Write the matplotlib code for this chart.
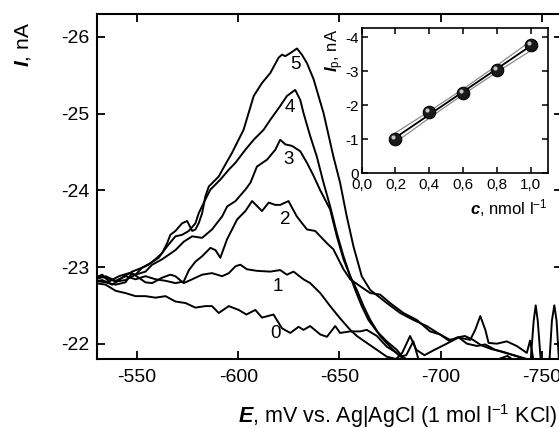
import numpy as np
import matplotlib
matplotlib.use("Agg")
import matplotlib.pyplot as plt
from matplotlib import transforms

plt.rcParams['font.family'] = 'Liberation Sans'
plt.rcParams['axes.unicode_minus'] = False
plt.rcParams['mathtext.fontset'] = 'custom'
plt.rcParams['mathtext.rm'] = 'Liberation Sans'
plt.rcParams['mathtext.it'] = 'Liberation Sans:bold:italic'

# voltammograms, E in mV, I in nA
e0 = [-529.4, -534.4, -539.3, -544.2, -549.2, -554.1, -559.1, -564.0, -568.9, -573.9, -578.8, -583.7, -587.0, -590.3,
      -595.3, -600.2, -604.0, -608.4, -611.7, -617.4, -621.6, -625.7, -629.8, -632.2, -635.5, -640.5, -643.8, -647.9,
      -650.3, -655.3, -660.2, -663.5, -668.5, -673.4, -678.3, -683.0, -690.0, -700.0, -720.0, -733.0, -738.0, -744.5,
      -746.0, -747.0, -748.0, -749.5, -751.5, -753.8, -755.0, -756.2, -757.3, -758.5, -760.0]
i0 = [-22.79, -22.77, -22.69, -22.66, -22.62, -22.62, -22.60, -22.62, -22.55, -22.53, -22.47, -22.49, -22.49, -22.40,
      -22.49, -22.44, -22.38, -22.44, -22.34, -22.38, -22.20, -22.14, -22.22, -22.18, -22.23, -22.12, -22.09, -22.23,
      -22.14, -22.16, -22.16, -22.18, -22.10, -21.96, -21.88, -21.78, -21.72, -21.70, -21.72, -21.84, -21.75, -21.78,
      -22.30, -22.50, -22.30, -21.78, -21.72, -21.78, -22.30, -22.50, -22.30, -21.78, -21.72]

e1 = [-529.4, -534.4, -539.3, -544.2, -547.5, -550.8, -554.1, -557.4, -562.3, -566.4, -568.9, -573.0, -577.2, -582.1,
      -587.0, -592.0, -595.3, -598.6, -601.0, -604.3, -609.2, -615.8, -620.7, -624.0, -627.3, -632.2, -635.5, -640.5,
      -645.4, -650.3, -655.3, -658.6, -663.5, -668.5, -673.4, -678.0, -681.0, -684.9, -688.0, -692.0, -697.0, -703.0,
      -708.8, -714.6, -717.1, -719.6, -722.1, -723.7, -727.8, -732.7, -737.6, -742.6, -744.2, -745.8, -750.0, -760.0]
i1 = [-22.82, -22.80, -22.77, -22.80, -22.92, -22.86, -22.80, -22.79, -22.86, -22.90, -22.88, -22.79, -22.84, -22.90,
      -22.92, -22.88, -22.92, -23.01, -23.03, -22.97, -22.95, -22.94, -22.96, -22.90, -22.94, -22.84, -22.79, -22.66,
      -22.49, -22.33, -22.18, -22.10, -22.01, -21.92, -21.83, -21.80, -21.88, -22.10, -21.92, -21.85, -21.92, -22.00,
      -22.08, -22.05, -22.18, -22.36, -22.18, -22.01, -22.00, -22.03, -21.97, -21.88, -22.04, -21.80, -21.72, -21.70]

e2 = [-529.4, -534.4, -539.3, -544.2, -549.2, -554.1, -559.1, -564.0, -568.9, -573.0, -575.6, -578.8, -582.1, -586.2,
      -588.7, -591.1, -594.4, -599.4, -603.5, -606.8, -611.7, -615.0, -618.3, -620.7, -624.8, -628.9, -633.9, -638.0,
      -643.8, -647.0, -652.0, -655.3, -660.2, -665.2, -670.1, -675.0, -681.6, -688.2, -694.8, -699.7, -704.6, -708.0,
      -712.0, -716.0, -720.0, -725.0, -730.0, -735.0, -740.0, -745.0, -760.0]
i2 = [-22.84, -22.88, -22.82, -22.88, -22.84, -22.88, -22.84, -22.82, -22.79, -22.81, -22.96, -23.07, -23.14, -23.25,
      -23.22, -23.12, -23.36, -23.62, -23.73, -23.86, -23.73, -23.84, -23.81, -23.81, -23.86, -23.66, -23.49, -23.47,
      -23.31, -23.23, -22.97, -22.84, -22.75, -22.66, -22.64, -22.53, -22.40, -22.31, -22.16, -22.12, -22.03, -22.08,
      -22.10, -22.05, -21.98, -21.93, -21.90, -21.86, -21.82, -21.78, -21.72]

e3 = [-529.4, -534.4, -539.3, -544.2, -549.2, -554.1, -557.4, -562.3, -568.9, -573.0, -577.2, -582.1, -587.0, -592.0,
      -594.5, -598.6, -603.5, -606.0, -609.2, -614.2, -618.3, -620.7, -623.2, -626.5, -630.6, -633.9, -637.0, -640.5,
      -645.4, -648.7, -652.0, -655.3, -658.6, -661.9, -665.2, -670.1, -675.0, -680.0, -683.0, -686.5, -689.0, -695.0,
      -760.0]
i3 = [-22.88, -22.86, -22.81, -22.83, -22.90, -22.94, -23.03, -23.10, -23.22, -23.33, -23.40, -23.38, -23.49, -23.66,
      -23.79, -23.86, -24.01, -24.10, -24.31, -24.40, -24.53, -24.66, -24.60, -24.58, -24.51, -24.36, -24.20, -24.00,
      -23.75, -23.40, -23.10, -22.88, -22.70, -22.49, -22.31, -22.10, -21.96, -21.83, -21.85, -22.03, -21.80, -21.72,
      -21.70]

e4 = [-529.4, -532.7, -537.7, -542.6, -547.5, -552.4, -556.5, -560.6, -564.8, -568.9, -572.2, -575.5, -578.8, -580.4,
      -583.7, -586.2, -591.1, -595.3, -598.6, -603.5, -607.6, -612.5, -615.8, -620.7, -624.0, -628.1, -630.6, -632.2,
      -635.5, -638.8, -642.1, -645.4, -648.7, -652.0, -655.3, -657.8, -661.0, -664.3, -668.5, -673.4, -678.3, -681.5,
      -690.0, -760.0]
i4 = [-22.81, -22.83, -22.77, -22.86, -22.94, -22.99, -23.05, -23.12, -23.27, -23.40, -23.42, -23.47, -23.57, -23.70,
      -23.88, -24.01, -24.14, -24.27, -24.36, -24.53, -24.66, -24.79, -24.92, -25.10, -25.23, -25.31, -25.18, -25.01,
      -24.71, -24.44, -24.10, -23.79, -23.44, -23.14, -22.88, -22.70, -22.49, -22.31, -22.16, -22.03, -21.92, -21.82,
      -21.72, -21.70]

e5 = [-529.4, -532.7, -536.0, -541.0, -545.9, -549.2, -552.4, -555.7, -559.8, -562.3, -564.8, -566.4, -568.9, -572.2,
      -574.7, -577.2, -578.8, -580.4, -582.1, -583.7, -585.4, -590.3, -592.8, -596.9, -602.6, -607.6, -611.7, -615.8,
      -619.9, -621.6, -623.2, -625.7, -629.0, -631.4, -633.9, -637.2, -642.1, -647.0, -650.3, -653.6, -656.9, -661.0,
      -665.2, -673.4, -680.0, -686.5, -693.1, -699.7, -704.6, -709.0, -713.0, -718.0, -722.0, -727.0, -732.0, -737.0,
      -742.0, -747.0, -760.0]
i5 = [-22.86, -22.90, -22.81, -22.88, -22.92, -22.90, -22.99, -23.03, -23.12, -23.18, -23.31, -23.42, -23.47, -23.57,
      -23.60, -23.47, -23.49, -23.57, -23.70, -23.92, -24.05, -24.18, -24.30, -24.49, -24.79, -25.23, -25.40, -25.53,
      -25.73, -25.77, -25.75, -25.79, -25.85, -25.77, -25.66, -25.45, -25.01, -24.44, -24.10, -23.66, -23.27, -22.88,
      -22.70, -22.53, -22.40, -22.31, -22.23, -22.12, -22.05, -22.08, -22.00, -21.97, -21.99, -21.92, -21.88, -21.84,
      -21.80, -21.78, -21.72]

# curve numbers and where they are written
curve_labels = ['0', '1', '2', '3', '4', '5']
label_e = [-618.3, -619.6, -623.2, -625.0, -625.5, -628.1]
label_i = [-22.13, -22.74, -23.62, -24.40, -25.08, -25.64]

# calibration (inset)
conc = [0.2, 0.4, 0.6, 0.8, 1.0]
ip = [-1.02, -1.80, -2.36, -3.04, -3.77]
conc_ticks = [0.0, 0.2, 0.4, 0.6, 0.8, 1.0]
conc_ticklabels = ['0,0', '0,2', '0,4', '0,6', '0,8', '1,0']
ip_ticks = [0, -1, -2, -3, -4]

fig = plt.figure(figsize=(5.59, 4.28), dpi=100)
ax = fig.add_axes([0.173, 0.1612, 0.8324, 0.8061])

for e, i in [(e0, i0), (e1, i1), (e2, i2), (e3, i3), (e4, i4), (e5, i5)]:
    ax.plot(e, i, color='black', lw=1.4, solid_joinstyle='round')

for t, x, y in zip(curve_labels, label_e, label_i):
    ax.text(x, y, t, fontsize=13.5, ha='center', va='center')

ax.set_xlim(-530, -760)
ax.set_ylim(-21.8, -26.3)
ax.set_xticks([-550, -600, -650, -700, -750])
ax.set_yticks([-22, -23, -24, -25, -26])
ax.tick_params(direction='in', length=6, width=1.3, labelsize=14, top=True, right=True, pad=5)
ax.tick_params(axis='x', pad=7)
for s in ax.spines.values():
    s.set_linewidth(1.5)

fig.text(0.996, 0.028, r'$E$, mV vs. Ag|AgCl (1 mol l$^{-1}$ KCl)', fontsize=15.5, ha='right', va='center')
fig.text(0.042, 0.895, r'$I$, nA', fontsize=15, ha='center', va='center', rotation=90)

# inset
ins = fig.add_axes([0.647, 0.595, 0.3327, 0.3388])
k, b = np.polyfit(conc, ip, 1)
xc = np.array(conc)
fit = k * xc + b
res = np.array(ip) - fit
s = np.sqrt(np.sum(res ** 2) / (len(conc) - 2))
half = 3.182 * s * np.sqrt(1 / len(conc) + (xc - xc.mean()) ** 2 / np.sum((xc - xc.mean()) ** 2))
ins.plot(xc, fit + half, color='#8a8a8a', lw=0.9)
ins.plot(xc, fit - half, color='#8a8a8a', lw=0.9)
ins.plot(xc, fit, color='black', lw=1.3)
ins.plot(conc, ip, 'o', ms=9, mfc='#1a1a1a', mec='black', mew=0.8)
hl = transforms.offset_copy(ins.transData, fig=fig, x=-1.5, y=1.5, units='points')
ins.plot(conc, ip, 'o', ms=3, mfc='#d8d8d8', mec='none', transform=hl, alpha=0.9)

ins.set_xlim(0, 1.1)
ins.set_ylim(0, -4.26)
ins.set_xticks(conc_ticks)
ins.set_xticklabels(conc_ticklabels)
ins.set_yticks(ip_ticks)
ins.set_yticklabels([str(v) for v in ip_ticks])
ins.tick_params(direction='in', length=4, width=1.1, labelsize=11, top=True, right=True)
ins.tick_params(axis='y', pad=2)
ins.tick_params(axis='x', pad=3)
for s_ in ins.spines.values():
    s_.set_linewidth(1.2)

fig.text(0.979, 0.515, r'$c$, nmol l$^{-1}$', fontsize=12, ha='right', va='center')
fig.text(0.598, 0.883, r'$I_{\mathrm{p}}$, nA', fontsize=12, ha='center', va='center', rotation=90)

fig.savefig('out.png', dpi=100)
